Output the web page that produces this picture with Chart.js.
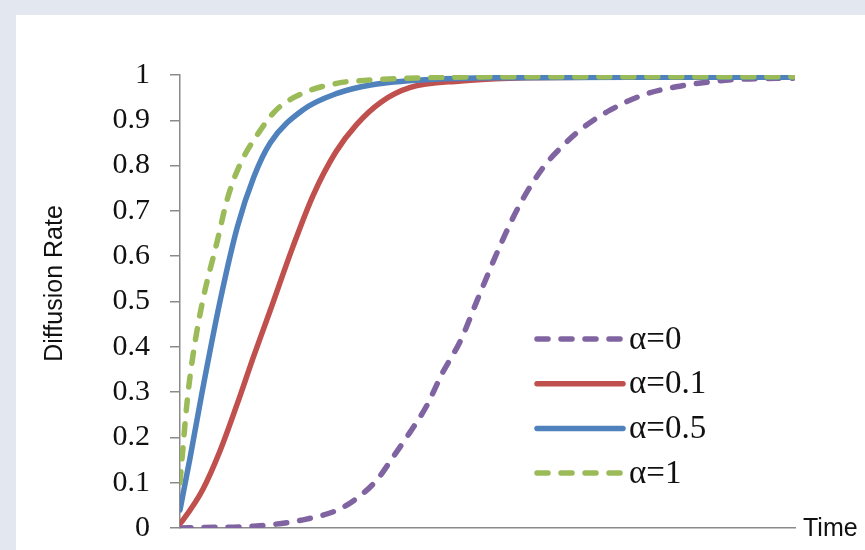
<!DOCTYPE html>
<html>
<head>
<meta charset="utf-8">
<script src="https://cdn.jsdelivr.net/npm/chart.js@4/dist/chart.umd.min.js"></script>
<style>
  body { margin: 0; background: #e3e7ef; width: 865px; height: 550px; overflow: hidden; }
  #panel { position: absolute; left: 16px; top: 15px; width: 849px; height: 535px; background: #fff; }
</style>
</head>
<body>
<div id="panel"><canvas id="chart" width="849" height="535"></canvas></div>
<script>
// values (time in arbitrary units 0..30)
const seriesLabels = ["α=0", "α=0.1", "α=0.5", "α=1"];
const yTicks = [0, 0.1, 0.2, 0.3, 0.4, 0.5, 0.6, 0.7, 0.8, 0.9, 1];

const timeA0 = [0, 1.1, 3.6, 6.0, 7.7, 8.7, 9.6, 10.4, 11.2, 12.0, 12.8, 13.7, 14.5, 15.7, 16.6, 17.7, 18.7, 19.7, 21.0, 22.6, 24.2, 25.9, 27.5, 29.9];
const rateA0 = [0, 0.001, 0.004, 0.018, 0.04, 0.068, 0.106, 0.157, 0.21, 0.267, 0.342, 0.415, 0.503, 0.632, 0.716, 0.795, 0.845, 0.885, 0.923, 0.956, 0.974, 0.985, 0.991, 0.993];

const timeA01 = [0, 0.15, 1.1, 1.95, 2.8, 3.6, 4.4, 5.5, 6.5, 7.6, 8.6, 9.8, 11.2, 13.7, 16.1, 20, 25, 29.9];
const rateA01 = [0.01, 0.018, 0.084, 0.17, 0.275, 0.38, 0.48, 0.62, 0.735, 0.83, 0.89, 0.94, 0.972, 0.987, 0.993, 0.995, 0.995, 0.995];

const timeA05 = [0, 0.5, 1.1, 1.95, 2.8, 3.6, 4.4, 6.0, 7.7, 9.3, 12.2, 16, 22, 29.9];
const rateA05 = [0.04, 0.157, 0.305, 0.50, 0.665, 0.775, 0.85, 0.923, 0.96, 0.978, 0.99, 0.994, 0.995, 0.995];

const timeA1 = [0, 0.35, 0.63, 1.1, 1.8, 2.3, 2.9, 3.8, 4.7, 6.0, 7.7, 9.3, 12, 16, 22, 29.9];
const rateA1 = [0.1, 0.28, 0.38, 0.5, 0.63, 0.725, 0.80, 0.87, 0.923, 0.96, 0.982, 0.989, 0.994, 0.996, 0.996, 0.996];

const pts = (xs, ys) => xs.map((x, i) => ({ x: x, y: ys[i] }));

const axisGray = "#8a8a8a";

const overlay = {
  id: "overlay",
  afterDraw(chart) {
    const { ctx, chartArea: a } = chart;
    ctx.save();
    // legend inside the plot
    chart.data.datasets.forEach((ds, i) => {
      const y = a.top + 264 + i * 44.7;
      const x0 = a.left + 357;
      ctx.strokeStyle = ds.borderColor;
      ctx.lineWidth = ds.borderWidth;
      ctx.lineCap = "round";
      ctx.setLineDash(ds.borderDash || []);
      ctx.beginPath();
      ctx.moveTo(x0, y);
      ctx.lineTo(x0 + 86, y);
      ctx.stroke();
      ctx.setLineDash([]);
      ctx.fillStyle = "#111";
      ctx.font = '33px "Liberation Serif"';
      ctx.textAlign = "left";
      ctx.textBaseline = "middle";
      ctx.fillText(ds.label, x0 + 92, y + 1);
    });
    // axis titles
    ctx.font = '25px "Liberation Sans"';
    ctx.fillStyle = "#111";
    ctx.textBaseline = "middle";
    ctx.fillText("Time", a.right + 8, a.bottom + 1);
    ctx.translate(39, (a.top + a.bottom) / 2 - 18);
    ctx.rotate(-Math.PI / 2);
    ctx.textAlign = "center";
    ctx.fillText("Diffusion Rate", 0, 0);
    ctx.restore();
  },
};

const mk = (label, xs, ys, color, dash, order) => ({
  label: label,
  data: pts(xs, ys),
  borderColor: color,
  backgroundColor: color,
  borderWidth: 5.5,
  borderDash: dash,
  borderCapStyle: "round",
  pointRadius: 0,
  cubicInterpolationMode: "monotone",
  order: order,
});

new Chart(document.getElementById("chart"), {
  type: "line",
  data: {
    datasets: [
      mk(seriesLabels[0], timeA0, rateA0, "#8064a2", [11, 13], 3),
      mk(seriesLabels[1], timeA01, rateA01, "#c0504d", [], 2),
      mk(seriesLabels[2], timeA05, rateA05, "#4f81bd", [], 1),
      mk(seriesLabels[3], timeA1, rateA1, "#9bbb59", [11, 13], 0),
    ],
  },
  options: {
    responsive: false,
    animation: false,
    layout: { padding: { top: 60, right: 70, bottom: 22, left: 0 } },
    plugins: { legend: { display: false }, tooltip: { enabled: false } },
    scales: {
      x: {
        type: "linear",
        min: 0,
        max: 30,
        ticks: { display: false },
        grid: { display: false },
        border: { color: axisGray, width: 1.5 },
        afterFit: (s) => { s.height = 0; s.paddingLeft = 0; s.paddingRight = 0; },
      },
      y: {
        min: 0,
        max: 1,
        afterBuildTicks: (s) => { s.ticks = yTicks.map((v) => ({ value: v })); },
        ticks: {
          padding: 20,
          color: "#111",
          font: { family: '"Liberation Serif"', size: 30 },
          callback: (v) => String(v),
        },
        grid: { drawOnChartArea: false, tickLength: 10, color: axisGray, lineWidth: 1.5 },
        border: { color: axisGray, width: 1.5 },
        afterFit: (s) => { s.width = 164; s.paddingTop = 0; s.paddingBottom = 0; },
      },
    },
  },
  plugins: [overlay],
});
</script>
</body>
</html>
